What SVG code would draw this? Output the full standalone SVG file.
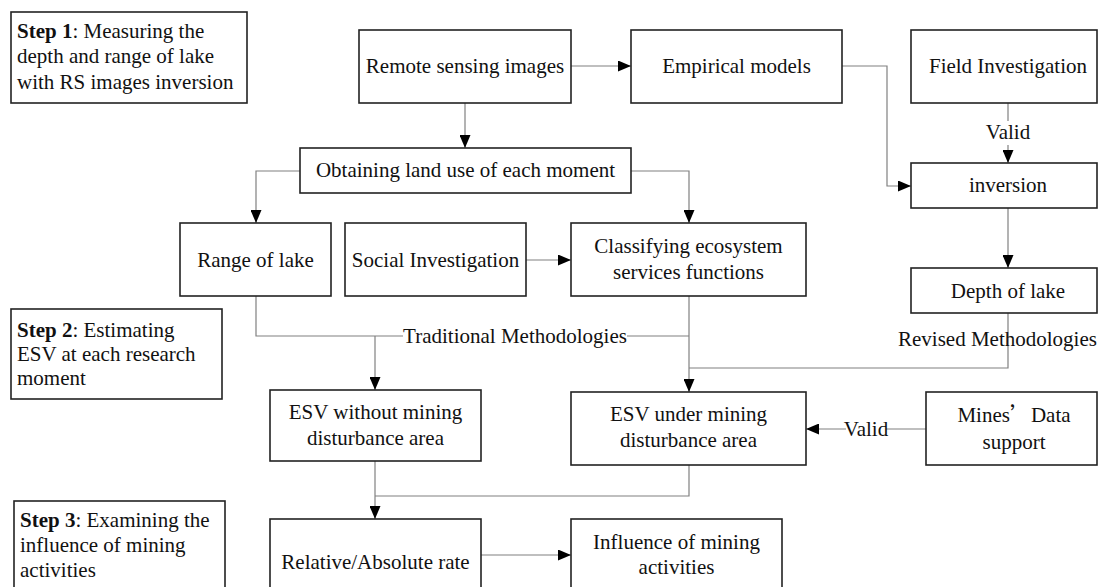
<svg xmlns="http://www.w3.org/2000/svg" width="1099" height="587" viewBox="0 0 1099 587">
<defs>
<style>
.box{fill:#fff;stroke:#222;stroke-width:1.6}
.t{font-family:"Liberation Serif","Times New Roman",serif;font-size:21px;fill:#111}
.c{text-anchor:middle}
.b{font-weight:bold}
.ln{fill:none;stroke:#808080;stroke-width:1.2}
.lbl{fill:#fff;stroke:none}
</style>
<marker id="ah" viewBox="0 0 13 11" refX="13" refY="5.5" markerWidth="13" markerHeight="11" markerUnits="userSpaceOnUse" orient="auto">
<path d="M0,0 L13,5.5 L0,11 Z" fill="#000"/>
</marker>
</defs>
<rect width="1099" height="587" fill="#fff"/>

<g id="connectors">
<path class="ln" d="M571,66 H631" marker-end="url(#ah)"/>
<path class="ln" d="M842,66 H887 V186 H911" marker-end="url(#ah)"/>
<path class="ln" d="M1008,103 V163" marker-end="url(#ah)"/>
<path class="ln" d="M465,103 V148" marker-end="url(#ah)"/>
<path class="ln" d="M300,171 H256 V223" marker-end="url(#ah)"/>
<path class="ln" d="M631,171 H689 V223" marker-end="url(#ah)"/>
<path class="ln" d="M526,260 H571" marker-end="url(#ah)"/>
<path class="ln" d="M256,296 V336 H689"/>
<path class="ln" d="M375,336 V390" marker-end="url(#ah)"/>
<path class="ln" d="M689,296 V392" marker-end="url(#ah)"/>
<path class="ln" d="M1008,313 V368 H689"/>
<path class="ln" d="M1008,208 V268" marker-end="url(#ah)"/>
<path class="ln" d="M926,429 H806" marker-end="url(#ah)"/>
<path class="ln" d="M375,461 V519" marker-end="url(#ah)"/>
<path class="ln" d="M689,465 V496 H375"/>
<path class="ln" d="M481,555 H571" marker-end="url(#ah)"/>
<rect class="lbl" x="988" y="121" width="40" height="24"/>
<text class="t c" x="1008" y="139">Valid</text>
<rect class="lbl" x="403" y="326" width="224" height="22"/>
<text class="t c" x="515" y="343">Traditional Methodologies</text>
<text class="t" x="898" y="346">Revised Methodologies</text>
<rect class="lbl" x="846" y="418" width="40" height="22"/>
<text class="t c" x="866" y="436">Valid</text>
</g>

<g id="step1">
<rect class="box" x="11" y="12" width="236" height="91"/>
<text class="t" x="17" y="38"><tspan class="b">Step 1</tspan>: Measuring the</text>
<text class="t" x="17" y="63">depth and range of lake</text>
<text class="t" x="17" y="89">with RS images inversion</text>
</g>
<g id="remote-sensing">
<rect class="box" x="359" y="30" width="212" height="73"/>
<text class="t c" x="465" y="73">Remote sensing images</text>
</g>
<g id="empirical">
<rect class="box" x="631" y="30" width="211" height="73"/>
<text class="t c" x="736.5" y="73">Empirical models</text>
</g>
<g id="field">
<rect class="box" x="911" y="30" width="186" height="73"/>
<text class="t c" x="1008" y="73">Field Investigation</text>
</g>
<g id="obtaining">
<rect class="box" x="300" y="148" width="331" height="45"/>
<text class="t c" x="465.5" y="177">Obtaining land use of each moment</text>
</g>
<g id="inversion">
<rect class="box" x="911" y="163" width="186" height="45"/>
<text class="t c" x="1008" y="192">inversion</text>
</g>
<g id="range">
<rect class="box" x="180" y="223" width="151" height="73"/>
<text class="t c" x="255.5" y="267">Range of lake</text>
</g>
<g id="social">
<rect class="box" x="345" y="223" width="181" height="73"/>
<text class="t c" x="435.5" y="267">Social Investigation</text>
</g>
<g id="classifying">
<rect class="box" x="571" y="223" width="235" height="73"/>
<text class="t c" x="688.5" y="253">Classifying ecosystem</text>
<text class="t c" x="688.5" y="279">services functions</text>
</g>
<g id="depth">
<rect class="box" x="911" y="268" width="186" height="45"/>
<text class="t c" x="1008" y="298">Depth of lake</text>
</g>
<g id="step2">
<rect class="box" x="11" y="309" width="211" height="90"/>
<text class="t" x="17" y="337"><tspan class="b">Step 2</tspan>: Estimating</text>
<text class="t" x="17" y="361">ESV at each research</text>
<text class="t" x="17" y="385">moment</text>
</g>
<g id="esv-without">
<rect class="box" x="270" y="390" width="211" height="71"/>
<text class="t c" x="375.5" y="419">ESV without mining</text>
<text class="t c" x="375.5" y="445">disturbance area</text>
</g>
<g id="esv-under">
<rect class="box" x="571" y="392" width="235" height="73"/>
<text class="t c" x="688.5" y="421">ESV under mining</text>
<text class="t c" x="688.5" y="447">disturbance area</text>
</g>
<g id="mines">
<rect class="box" x="926" y="392" width="171" height="73"/>
<text class="t c" x="1014" y="422">Mines<tspan font-family="'Noto Sans CJK SC',sans-serif">’</tspan>Data</text>
<text class="t c" x="1014" y="449">support</text>
</g>
<g id="step3">
<rect class="box" x="14" y="501" width="211" height="90"/>
<text class="t" x="20" y="527"><tspan class="b">Step 3</tspan>: Examining the</text>
<text class="t" x="20" y="552">influence of mining</text>
<text class="t" x="20" y="577">activities</text>
</g>
<g id="relative">
<rect class="box" x="270" y="519" width="211" height="72"/>
<text class="t c" x="375.5" y="569">Relative/Absolute rate</text>
</g>
<g id="influence">
<rect class="box" x="571" y="519" width="211" height="72"/>
<text class="t c" x="676.5" y="549">Influence of mining</text>
<text class="t c" x="676.5" y="574">activities</text>
</g>
</svg>
